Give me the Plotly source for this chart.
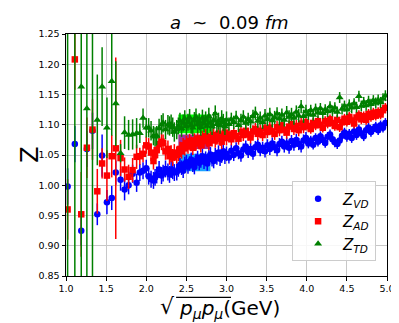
import plotly.graph_objects as go

# ---------------- data ----------------
x_left = [1.02, 1.11, 1.19, 1.26, 1.33, 1.39, 1.45, 1.51, 1.57, 1.62, 1.68, 1.73, 1.78, 1.83, 1.88]
x_dense = [1.92, 1.96, 2.00, 2.03, 2.06, 2.09, 2.11, 2.13, 2.16, 2.19, 2.21,
           2.24, 2.27, 2.29, 2.31, 2.33, 2.35, 2.38,
           2.40, 2.42, 2.44, 2.46, 2.48, 2.50, 2.52, 2.54, 2.56, 2.58, 2.60, 2.62, 2.64, 2.66,
           2.68, 2.70, 2.72, 2.74, 2.76, 2.78, 2.80, 2.82, 2.84, 2.86, 2.88, 2.90, 2.92, 2.94,
           2.96, 2.98, 3.00,
           3.03, 3.06, 3.09, 3.12, 3.15, 3.18, 3.21, 3.24, 3.27, 3.30, 3.33, 3.36, 3.39, 3.42,
           3.45, 3.48, 3.51, 3.54, 3.57, 3.60, 3.63, 3.66, 3.69, 3.72, 3.75, 3.78, 3.81, 3.84,
           3.87, 3.90, 3.93, 3.96, 3.99, 4.02, 4.05, 4.08, 4.11, 4.14, 4.17, 4.20, 4.23, 4.26,
           4.29, 4.32, 4.35, 4.38, 4.41, 4.44, 4.47, 4.50, 4.53, 4.56, 4.59, 4.62, 4.65, 4.68,
           4.71, 4.74, 4.77, 4.80, 4.83, 4.86, 4.89, 4.92, 4.95, 4.98]
momentum = x_left + x_dense

z_vd_left = [0.998, 1.068, 0.925, 1.060, 1.090, 0.952, 1.049, 0.972, 0.979, 1.021, 1.009, 0.993, 1.000, 1.019, 1.004]
z_vd_dense = [1.021, 1.024, 1.028, 1.015, 1.010, 1.008, 1.013, 1.017, 1.026, 1.016, 1.020,
              1.027, 1.022, 1.018, 1.026, 1.024, 1.021, 1.022,
              1.026, 1.033, 1.029, 1.024, 1.035, 1.038, 1.031, 1.036, 1.042, 1.034, 1.030, 1.040, 1.045, 1.037,
              1.041, 1.048, 1.039, 1.044, 1.036, 1.047, 1.051, 1.043, 1.040, 1.050, 1.046, 1.054, 1.044, 1.049,
              1.056, 1.047, 1.052,
              1.046, 1.057, 1.050, 1.061, 1.053, 1.049, 1.059, 1.064, 1.055, 1.060, 1.052, 1.063, 1.067, 1.058,
              1.062, 1.056, 1.066, 1.060, 1.069, 1.063, 1.058, 1.068, 1.072, 1.064, 1.069, 1.062, 1.073, 1.067,
              1.075, 1.068, 1.064, 1.074, 1.078, 1.069, 1.074, 1.067, 1.078, 1.072, 1.081, 1.075, 1.070, 1.080,
              1.084, 1.076, 1.071, 1.068, 1.074, 1.082, 1.087, 1.080, 1.085, 1.078, 1.089, 1.083, 1.092, 1.086,
              1.081, 1.091, 1.095, 1.088, 1.093, 1.097, 1.091, 1.099, 1.095, 1.103]
z_vd = z_vd_left + z_vd_dense
z_vd_err = [0.03, 0.03, 0.025, 0.03, 0.03, 0.018, 0.035, 0.02, 0.02, 0.02, 0.018, 0.018, 0.015, 0.015, 0.015] \
    + [0.014] * 18 + [0.012] * 31 + [0.010] * 33 + [0.008] * 33

z_ad_left = [0.960, 1.208, 0.952, 1.062, 1.092, 0.990, 1.036, 1.016, 1.048, 1.061, 1.045, 1.026, 1.014, 1.025, 1.047]
z_ad_dense = [1.048, 1.052, 1.066, 1.064, 1.054, 1.040, 1.050, 1.058, 1.068, 1.072, 1.070,
              1.056, 1.060, 1.048, 1.052, 1.046, 1.054, 1.050,
              1.052, 1.060, 1.056, 1.066, 1.061, 1.070, 1.064, 1.073, 1.068, 1.062, 1.074, 1.069, 1.077, 1.071,
              1.066, 1.078, 1.073, 1.081, 1.075, 1.070, 1.080, 1.076, 1.083, 1.074, 1.079, 1.085, 1.077, 1.072,
              1.082, 1.087, 1.078,
              1.084, 1.076, 1.086, 1.081, 1.077, 1.088, 1.083, 1.090, 1.084, 1.079, 1.089, 1.093, 1.085, 1.090,
              1.083, 1.094, 1.088, 1.095, 1.089, 1.085, 1.096, 1.091, 1.099, 1.092, 1.087, 1.097, 1.101, 1.093,
              1.098, 1.091, 1.102, 1.096, 1.104, 1.098, 1.093, 1.103, 1.099, 1.106, 1.100, 1.095, 1.106, 1.102,
              1.109, 1.103, 1.098, 1.108, 1.096, 1.104, 1.110, 1.105, 1.113, 1.107, 1.102, 1.112, 1.116, 1.109,
              1.114, 1.108, 1.118, 1.113, 1.120, 1.115, 1.121, 1.117, 1.124, 1.128]
z_ad = z_ad_left + z_ad_dense
z_ad_err = [0.05, 0.05, 0.07, 0.05, 0.05, 0.037, 0.025, 0.042, 0.035, 0.15, 0.03, 0.02, 0.02, 0.02, 0.02] \
    + [0.014] * 18 + [0.012] * 31 + [0.010] * 33 + [0.008] * 33

z_td_left = [1.30, 1.35, 1.163, 1.127, 1.28, 1.108, 1.163, 1.095, 1.172, 1.135, 1.053, 1.087, 1.083, 1.084, 1.086]
z_td_dense = [1.086, 1.111, 1.095, 1.095, 1.090, 1.082, 1.080, 1.082, 1.094, 1.100, 1.103,
              1.092, 1.100, 1.098, 1.101, 1.096, 1.088, 1.092,
              1.098, 1.106, 1.094, 1.103, 1.110, 1.097, 1.104, 1.112, 1.099, 1.095, 1.107, 1.113, 1.100, 1.105,
              1.096, 1.111, 1.102, 1.108, 1.098, 1.114, 1.103, 1.097, 1.107, 1.118, 1.101, 1.106, 1.099, 1.110,
              1.104, 1.097, 1.108,
              1.101, 1.109, 1.104, 1.112, 1.099, 1.107, 1.113, 1.103, 1.109, 1.105, 1.114, 1.119, 1.106, 1.111,
              1.104, 1.115, 1.109, 1.117, 1.107, 1.112, 1.118, 1.110, 1.116, 1.108, 1.120, 1.113, 1.117, 1.111,
              1.121, 1.115, 1.130, 1.114, 1.122, 1.117, 1.124, 1.116, 1.126, 1.120, 1.127, 1.119, 1.125, 1.122,
              1.130, 1.123, 1.128, 1.121, 1.145, 1.126, 1.131, 1.125, 1.133, 1.128, 1.135, 1.129, 1.147, 1.131,
              1.137, 1.132, 1.139, 1.134, 1.140, 1.136, 1.141, 1.137, 1.143, 1.148]
z_td = z_td_left + z_td_dense
z_td_err = [0.5, 0.5, 0.4, 0.4, 0.5, 0.075, 0.065, 0.05, 0.09, 0.07, 0.015, 0.027, 0.025, 0.025, 0.025] \
    + [0.016] * 18 + [0.014] * 31 + [0.011] * 33 + [0.009] * 33

assert len(momentum) == len(z_vd) == len(z_ad) == len(z_td) == len(z_vd_err) == len(z_ad_err) == len(z_td_err)

# fit window and plateau bands
fit_window = [2.40, 2.80]
band_td = [1.086, 1.117]
band_ad = [1.060, 1.084]
band_vd = [1.023, 1.052]

series_names = ["<i>Z<sub>VD</sub></i>", "<i>Z<sub>AD</sub></i>", "<i>Z<sub>TD</sub></i>"]
x_ticks = [1.0, 1.5, 2.0, 2.5, 3.0, 3.5, 4.0, 4.5, 5.0]
y_ticks = [0.85, 0.90, 0.95, 1.00, 1.05, 1.10, 1.15, 1.20, 1.25]

# ---------------- figure ----------------
FONT = "DejaVu Sans"
fig = go.Figure()

specs = [
    (z_vd, z_vd_err, series_names[0], "blue", "circle", 6.5),
    (z_ad, z_ad_err, series_names[1], "red", "square", 6.5),
    (z_td, z_td_err, series_names[2], "green", "triangle-up", 7),
]
for vals, errs, name, col, sym, sz in specs:
    fig.add_trace(go.Scatter(
        x=momentum, y=vals, mode="markers", name=name,
        marker=dict(color=col, symbol=sym, size=sz, line=dict(width=0)),
        error_y=dict(type="data", array=errs, visible=True, color=col, thickness=1.5, width=0),
    ))

for band, col in [(band_td, "#00ff00"), (band_ad, "#a0309a"), (band_vd, "#1aa3ff")]:
    fig.add_shape(type="rect", xref="x", yref="y",
                  x0=fit_window[0], x1=fit_window[1], y0=band[0], y1=band[1],
                  fillcolor=col, line=dict(width=0), layer="between")

axis_common = dict(showgrid=True, gridcolor="#c8c8c8", gridwidth=1,
                   showline=True, linecolor="black", linewidth=1, mirror=True,
                   ticks="outside", ticklen=3.5, tickcolor="black", tickwidth=1,
                   tickfont=dict(family=FONT, size=9.5, color="black"), zeroline=False)

fig.update_xaxes(range=[1.0, 5.0], tickvals=x_ticks, ticktext=[f"{v:.1f}" for v in x_ticks], **axis_common)
fig.update_yaxes(range=[0.85, 1.25], tickvals=y_ticks, ticktext=[f"{v:.2f}" for v in y_ticks], **axis_common)

# axis titles
fig.add_annotation(xref="paper", yref="paper", x=-0.113, y=0.5, text="Z", textangle=-90,
                   showarrow=False, font=dict(family=FONT, size=24, color="black"),
                   xanchor="center", yanchor="middle")
# x label: radical sign, radicand with overbar, unit
fig.add_annotation(xref="paper", yref="paper", x=0.347, y=-0.128, text="√",
                   showarrow=False, font=dict(family=FONT, size=22, color="black"),
                   xanchor="right", yanchor="middle")
fig.add_annotation(xref="paper", yref="paper", x=0.347, y=-0.135,
                   text="<i>p<sub>μ</sub>p<sub>μ</sub></i>(GeV)",
                   showarrow=False, font=dict(family=FONT, size=20, color="black"),
                   xanchor="left", yanchor="middle")
fig.add_shape(type="line", xref="paper", yref="paper", x0=0.343, x1=0.514, y0=-0.088, y1=-0.088,
              line=dict(color="black", width=1.2))

fig.update_layout(
    width=399, height=323,
    margin=dict(l=58, r=14, t=26, b=55),
    paper_bgcolor="white", plot_bgcolor="white",
    title=dict(text="<i>a</i>&nbsp;&nbsp;~&nbsp;&nbsp;0.09&nbsp;<i>fm</i>", x=0.5545, xanchor="center",
               y=0.955, yanchor="middle", font=dict(family=FONT, size=18, color="black")),
    legend=dict(x=0.966, y=0.06, xanchor="right", yanchor="bottom",
                bgcolor="rgba(255,255,255,0.85)", bordercolor="#cccccc", borderwidth=1,
                font=dict(family=FONT, size=15, color="black"), tracegroupgap=0,
                itemwidth=40),
    showlegend=True,
)

fig.write_html("out.html")
